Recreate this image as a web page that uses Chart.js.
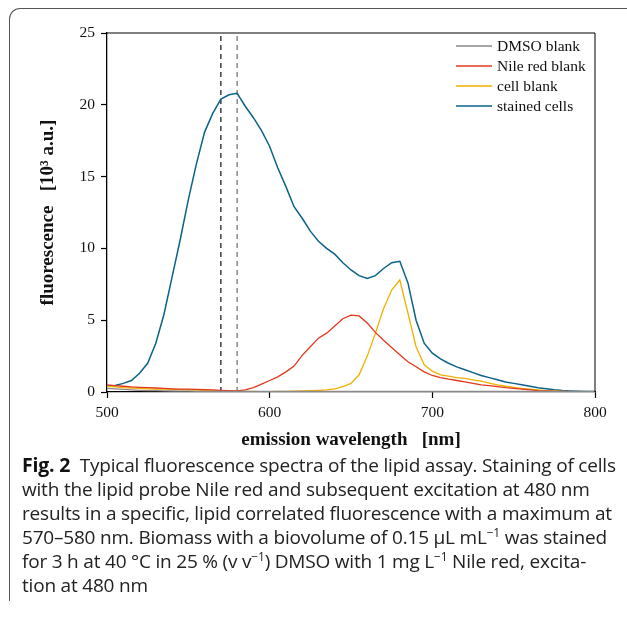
<!DOCTYPE html>
<html>
<head>
<meta charset="utf-8">
<script src="https://cdn.jsdelivr.net/npm/chart.js@4.4.0/dist/chart.umd.min.js"></script>
<style>
  html, body { margin: 0; padding: 0; background: #fff; }
  #page { position: relative; width: 627px; height: 619px; overflow: hidden; }
  #frame {
    position: absolute; left: 9px; top: 8px; width: 640px; height: 592px;
    border-left: 1.5px solid #555; border-top: 1.5px solid #555;
    border-top-left-radius: 11px;
  }
  #chartBox { position: absolute; left: 0; top: 0; width: 627px; height: 455px; }
  #caption {
    position: absolute; left: 22px; top: 453px;
    font-family: "Open Sans", "Noto Sans", sans-serif;
    font-size: 19px; line-height: 24px; color: #222; white-space: nowrap;
    letter-spacing: -0.2px;
  }
  #caption b { font-weight: 700; color: #111; font-size: 19.5px; }
  #caption sup { font-size: 12px; line-height: 0; }
</style>
</head>
<body>
<div id="page">
  <div id="frame"></div>
  <div id="chartBox"><canvas id="spectraChart" width="627" height="455"></canvas></div>
  <div id="caption">
    <b>Fig. 2</b>&nbsp; Typical fluorescence spectra of the lipid assay. Staining of cells<br>
    with the lipid probe Nile red and subsequent excitation at 480 nm<br>
    results in a specific, lipid correlated fluorescence with a maximum at<br>
    570–580 nm. Biomass with a biovolume of 0.15 µL mL<sup>−1</sup> was stained<br>
    for 3 h at 40 °C in 25 % (v v<sup>−1</sup>) DMSO with 1 mg L<sup>−1</sup> Nile red, excita-<br>
    tion at 480 nm
  </div>
</div>
<script>
// emission wavelength [nm], 5 nm steps
const wavelength = [
  500, 505, 510, 515, 520, 525, 530, 535, 540, 545,
  550, 555, 560, 565, 570, 575, 580, 585, 590, 595,
  600, 605, 610, 615, 620, 625, 630, 635, 640, 645,
  650, 655, 660, 665, 670, 675, 680, 685, 690, 695,
  700, 705, 710, 715, 720, 725, 730, 735, 740, 745,
  750, 755, 760, 765, 770, 775, 780, 785, 790, 795, 800
];

// fluorescence [10^3 a.u.]
const dmsoBlank = [
  0.25, 0.22, 0.18, 0.15, 0.12, 0.10, 0.09, 0.08, 0.07, 0.06,
  0.06, 0.05, 0.05, 0.05, 0.05, 0.04, 0.04, 0.04, 0.04, 0.04,
  0.04, 0.04, 0.04, 0.04, 0.04, 0.04, 0.04, 0.04, 0.04, 0.04,
  0.04, 0.04, 0.04, 0.04, 0.04, 0.04, 0.04, 0.04, 0.04, 0.04,
  0.04, 0.04, 0.04, 0.04, 0.04, 0.04, 0.04, 0.04, 0.04, 0.04,
  0.04, 0.04, 0.04, 0.04, 0.04, 0.04, 0.04, 0.04, 0.04, 0.04, 0.04
];

const nileRedBlank = [
  0.50, 0.45, 0.40, 0.35, 0.32, 0.30, 0.28, 0.25, 0.22, 0.20,
  0.20, 0.18, 0.17, 0.15, 0.12, 0.10, 0.08, 0.15, 0.30, 0.55,
  0.80, 1.05, 1.40, 1.80, 2.55, 3.15, 3.75, 4.10, 4.60, 5.10,
  5.35, 5.30, 4.80, 4.15, 3.60, 3.10, 2.60, 2.10, 1.76, 1.40,
  1.15, 1.00, 0.90, 0.80, 0.70, 0.60, 0.50, 0.45, 0.38, 0.30,
  0.25, 0.20, 0.15, 0.10, 0.07, 0.05, 0.04, 0.03, 0.03, 0.03, 0.03
];

const cellBlank = [
  0.40, 0.35, 0.30, 0.28, 0.25, 0.22, 0.20, 0.20, 0.18, 0.16,
  0.15, 0.14, 0.12, 0.10, 0.08, 0.06, 0.05, 0.04, 0.04, 0.03,
  0.03, 0.04, 0.05, 0.06, 0.08, 0.10, 0.12, 0.15, 0.22, 0.37,
  0.60, 1.20, 2.50, 4.10, 5.80, 7.10, 7.80, 5.50, 3.15, 1.90,
  1.45, 1.20, 1.10, 1.00, 0.95, 0.85, 0.75, 0.62, 0.50, 0.40,
  0.32, 0.25, 0.20, 0.15, 0.10, 0.07, 0.05, 0.03, 0.03, 0.03, 0.03
];

const stainedCells = [
  0.40, 0.45, 0.60, 0.80, 1.30, 2.00, 3.40, 5.40, 8.00, 10.6,
  13.4, 15.9, 18.1, 19.4, 20.4, 20.7, 20.8, 19.9, 19.1, 18.2,
  17.1, 15.6, 14.3, 12.9, 12.1, 11.2, 10.5, 10.0, 9.60, 9.00,
  8.50, 8.10, 7.90, 8.10, 8.60, 9.00, 9.10, 7.60, 5.00, 3.40,
  2.70, 2.30, 2.00, 1.75, 1.55, 1.35, 1.15, 1.00, 0.85, 0.70,
  0.60, 0.50, 0.40, 0.30, 0.22, 0.15, 0.10, 0.07, 0.05, 0.04, 0.03
];

// maximum range markers
const markerWavelengths = [570, 580];
const yRange = [0, 25];

function toPoints(values) {
  return values.map((v, i) => ({ x: wavelength[i], y: v }));
}

function markerLine(nm, color) {
  return {
    label: '',
    data: yRange.map(v => ({ x: nm, y: v })),
    borderColor: color,
    borderWidth: 1.3,
    borderDash: [5, 4],
    pointRadius: 0,
    isMarker: true
  };
}

const serif = '"Liberation Serif", "Times New Roman", serif';

// legend drawn inside the plot, top right, plus a frame round the plot
const innerLegend = {
  id: 'innerLegend',
  afterDraw(chart) {
    const ctx = chart.ctx;
    const area = chart.chartArea;
    ctx.save();
    ctx.strokeStyle = '#000';
    ctx.lineWidth = 1;
    ctx.beginPath();
    ctx.moveTo(area.left, area.top);
    ctx.lineTo(area.right, area.top);
    ctx.lineTo(area.right, area.bottom);
    ctx.stroke();

    ctx.font = '15.5px ' + serif;
    ctx.textBaseline = 'middle';
    let row = 0;
    chart.data.datasets.forEach(ds => {
      if (ds.isMarker) return;
      const y = 46 + row * 20;
      ctx.strokeStyle = ds.borderColor;
      ctx.lineWidth = 1.3;
      ctx.beginPath();
      ctx.moveTo(456, y);
      ctx.lineTo(492, y);
      ctx.stroke();
      ctx.fillStyle = '#111';
      ctx.fillText(ds.label, 497, y + 1);
      row++;
    });
    ctx.restore();
  }
};

const ctx = document.getElementById('spectraChart').getContext('2d');
new Chart(ctx, {
  type: 'line',
  data: {
    datasets: [
      {
        label: 'DMSO blank',
        data: toPoints(dmsoBlank),
        borderColor: '#8a8a8a',
        borderWidth: 1.3,
        pointRadius: 0
      },
      {
        label: 'Nile red blank',
        data: toPoints(nileRedBlank),
        borderColor: '#e2381c',
        borderWidth: 1.3,
        pointRadius: 0
      },
      {
        label: 'cell blank',
        data: toPoints(cellBlank),
        borderColor: '#f0b000',
        borderWidth: 1.3,
        pointRadius: 0
      },
      {
        label: 'stained cells',
        data: toPoints(stainedCells),
        borderColor: '#0b628a',
        borderWidth: 1.5,
        pointRadius: 0
      },
      markerLine(markerWavelengths[0], '#222'),
      markerLine(markerWavelengths[1], '#777')
    ]
  },
  options: {
    responsive: false,
    animation: false,
    layout: { padding: { left: 33, top: 33, right: 32, bottom: 0 } },
    scales: {
      x: {
        type: 'linear',
        min: 500,
        max: 800,
        ticks: {
          stepSize: 100,
          color: '#111',
          font: { family: serif, size: 15.5 },
          padding: 6
        },
        grid: { drawOnChartArea: false, tickLength: 6, color: '#000', tickWidth: 1.2 },
        border: { color: '#000', width: 1.3 },
        title: {
          display: true,
          text: 'emission wavelength   [nm]',
          color: '#111',
          font: { family: serif, size: 19, weight: 'bold' },
          padding: { top: 0 }
        },
        afterFit(axis) { axis.height = 63; }
      },
      y: {
        type: 'linear',
        min: 0,
        max: 25,
        ticks: {
          stepSize: 5,
          color: '#111',
          font: { family: serif, size: 15.5 },
          padding: 6
        },
        grid: { drawOnChartArea: false, tickLength: 6, color: '#000', tickWidth: 1.2 },
        border: { color: '#000', width: 1.3 },
        title: {
          display: true,
          text: 'fluorescence   [10³ a.u.]',
          color: '#111',
          font: { family: serif, size: 19, weight: 'bold' },
          padding: { top: 4, bottom: 4 }
        },
        afterFit(axis) { axis.width = 74; }
      }
    },
    plugins: {
      legend: { display: false },
      tooltip: { enabled: false }
    }
  },
  plugins: [innerLegend]
});
</script>
</body>
</html>
